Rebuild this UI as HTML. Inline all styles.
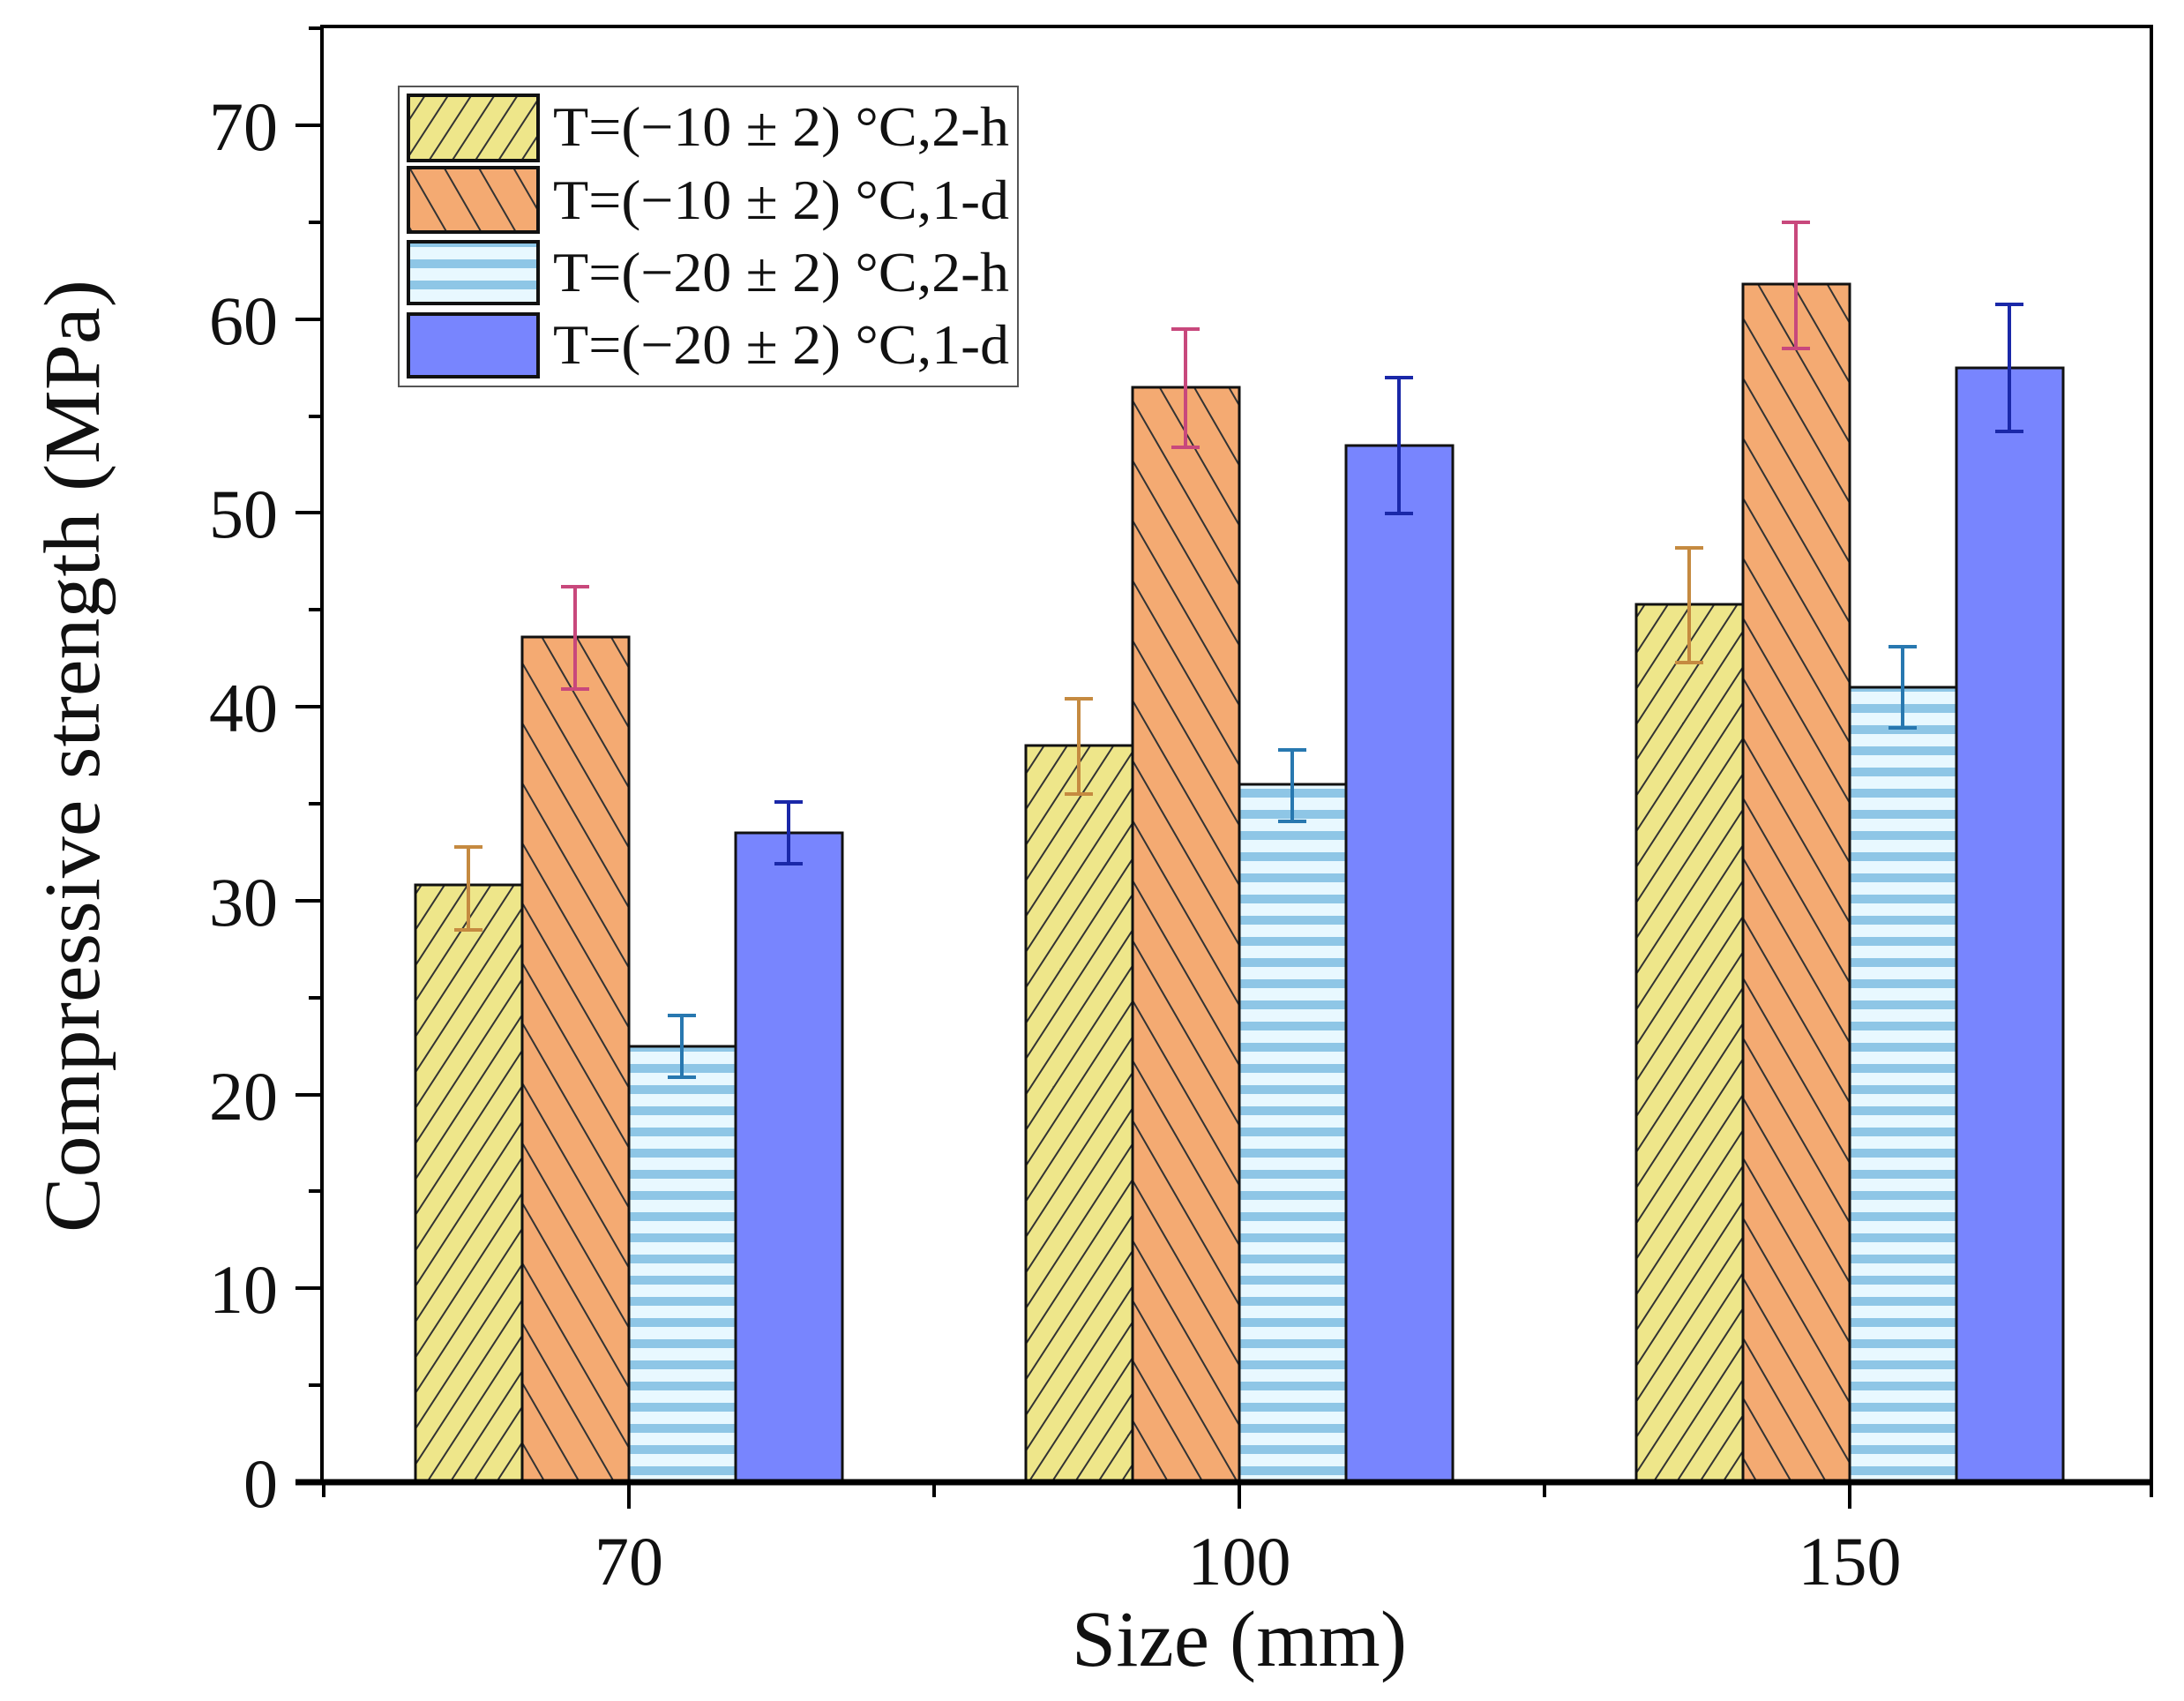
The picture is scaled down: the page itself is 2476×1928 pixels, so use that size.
<!DOCTYPE html>
<html><head><meta charset="utf-8"><style>body{margin:0;background:#fff}svg{display:block}</style></head>
<body>
<svg width="2476" height="1928" viewBox="0 0 2476 1928" xmlns="http://www.w3.org/2000/svg" font-family="Liberation Serif, serif">
<defs>
<pattern id="py" patternUnits="userSpaceOnUse" width="22" height="22" patternTransform="rotate(33)">
<rect width="22" height="22" fill="#eee68a"/><line x1="0" y1="0" x2="0" y2="22" stroke="#333" stroke-width="4"/></pattern>
<pattern id="po" patternUnits="userSpaceOnUse" width="34" height="34" patternTransform="rotate(-30)">
<rect width="34" height="34" fill="#f4aa72"/><line x1="0" y1="0" x2="0" y2="34" stroke="#333" stroke-width="4"/></pattern>
<pattern id="pb" patternUnits="userSpaceOnUse" width="20" height="24">
<rect width="20" height="24" fill="#e8f8ff"/><rect y="6" width="20" height="10" fill="#8ec6e6"/></pattern>
</defs>
<g id="bars" stroke="#111" stroke-width="3">
<rect x="471" y="1003" width="121" height="677" fill="url(#py)"/>
<rect x="592" y="722" width="121" height="958" fill="url(#po)"/>
<rect x="713" y="1186" width="121" height="494" fill="url(#pb)"/>
<rect x="834" y="944" width="121" height="736" fill="#7885fe"/>
<rect x="1163" y="845" width="121" height="835" fill="url(#py)"/>
<rect x="1284" y="439" width="121" height="1241" fill="url(#po)"/>
<rect x="1405" y="889" width="121" height="791" fill="url(#pb)"/>
<rect x="1526" y="505" width="121" height="1175" fill="#7885fe"/>
<rect x="1855" y="685" width="121" height="995" fill="url(#py)"/>
<rect x="1976" y="322" width="121" height="1358" fill="url(#po)"/>
<rect x="2097" y="779" width="121" height="901" fill="url(#pb)"/>
<rect x="2218" y="417" width="121" height="1263" fill="#7885fe"/>
</g>
<g stroke-width="4" fill="none">
<path stroke="#c58a40" d="M531 1054V960M515 1054h32M515 960h32 M1223 900V792M1207 900h32M1207 792h32 M1915 751V621M1899 751h32M1899 621h32"/>
<path stroke="#c8487c" d="M652 781V665M636 781h32M636 665h32 M1344 507V373M1328 507h32M1328 373h32 M2036 395V252M2020 395h32M2020 252h32"/>
<path stroke="#2878b0" d="M773 1221V1151M757 1221h32M757 1151h32 M1465 931V850M1449 931h32M1449 850h32 M2157 825V733M2141 825h32M2141 733h32"/>
<path stroke="#1a28a8" d="M894 979V909M878 979h32M878 909h32 M1586 582V428M1570 582h32M1570 428h32 M2278 489V345M2262 489h32M2262 345h32"/>
</g>
<g stroke="#000" fill="none">
<rect x="365" y="30" width="2074" height="1650" stroke-width="4"/>
<line x1="335" y1="1680" x2="2441" y2="1680" stroke-width="7"/>
<path stroke-width="4" d="M335 1680h30M335 1460h30M335 1241h30M335 1021h30M335 801h30M335 581h30M335 362h30M335 142h30
M350 1570h15M350 1350h15M350 1131h15M350 911h15M350 691h15M350 472h15M350 252h15M350 32h15
M713 1680v30M1405 1680v30M2097 1680v30M367 1680v17M1059 1680v17M1751 1680v17M2439 1680v17"/>
</g>
<g font-size="78" text-anchor="end" fill="#111">
<text x="315" y="1708">0</text><text x="315" y="1488">10</text><text x="315" y="1269">20</text><text x="315" y="1049">30</text>
<text x="315" y="829">40</text><text x="315" y="609">50</text><text x="315" y="390">60</text><text x="315" y="170">70</text>
</g>
<g font-size="78" text-anchor="middle" fill="#111">
<text x="713" y="1796">70</text><text x="1405" y="1796">100</text><text x="2097" y="1796">150</text>
</g>
<text x="1405" y="1888" font-size="90" text-anchor="middle" textLength="380" fill="#111">Size (mm)</text>
<text transform="translate(112,857) rotate(-90)" font-size="90" text-anchor="middle" textLength="1080" lengthAdjust="spacingAndGlyphs" fill="#111">Compressive strength (MPa)</text>
<rect x="452" y="98" width="702" height="340" fill="#fff" stroke="#555" stroke-width="2"/>
<g stroke="#111" stroke-width="4">
<rect x="463" y="108" width="147" height="74" fill="url(#py)"/>
<rect x="463" y="190" width="147" height="73" fill="url(#po)"/>
<rect x="463" y="274" width="147" height="70" fill="url(#pb)"/>
<rect x="463" y="356" width="147" height="71" fill="#7885fe"/>
</g>
<g font-size="64" fill="#111">
<text x="627" y="165" textLength="517" lengthAdjust="spacingAndGlyphs">T=(−10 ± 2) °C,2-h</text>
<text x="627" y="248" textLength="517" lengthAdjust="spacingAndGlyphs">T=(−10 ± 2) °C,1-d</text>
<text x="627" y="330" textLength="517" lengthAdjust="spacingAndGlyphs">T=(−20 ± 2) °C,2-h</text>
<text x="627" y="412" textLength="517" lengthAdjust="spacingAndGlyphs">T=(−20 ± 2) °C,1-d</text>
</g>
</svg>
</body></html>
